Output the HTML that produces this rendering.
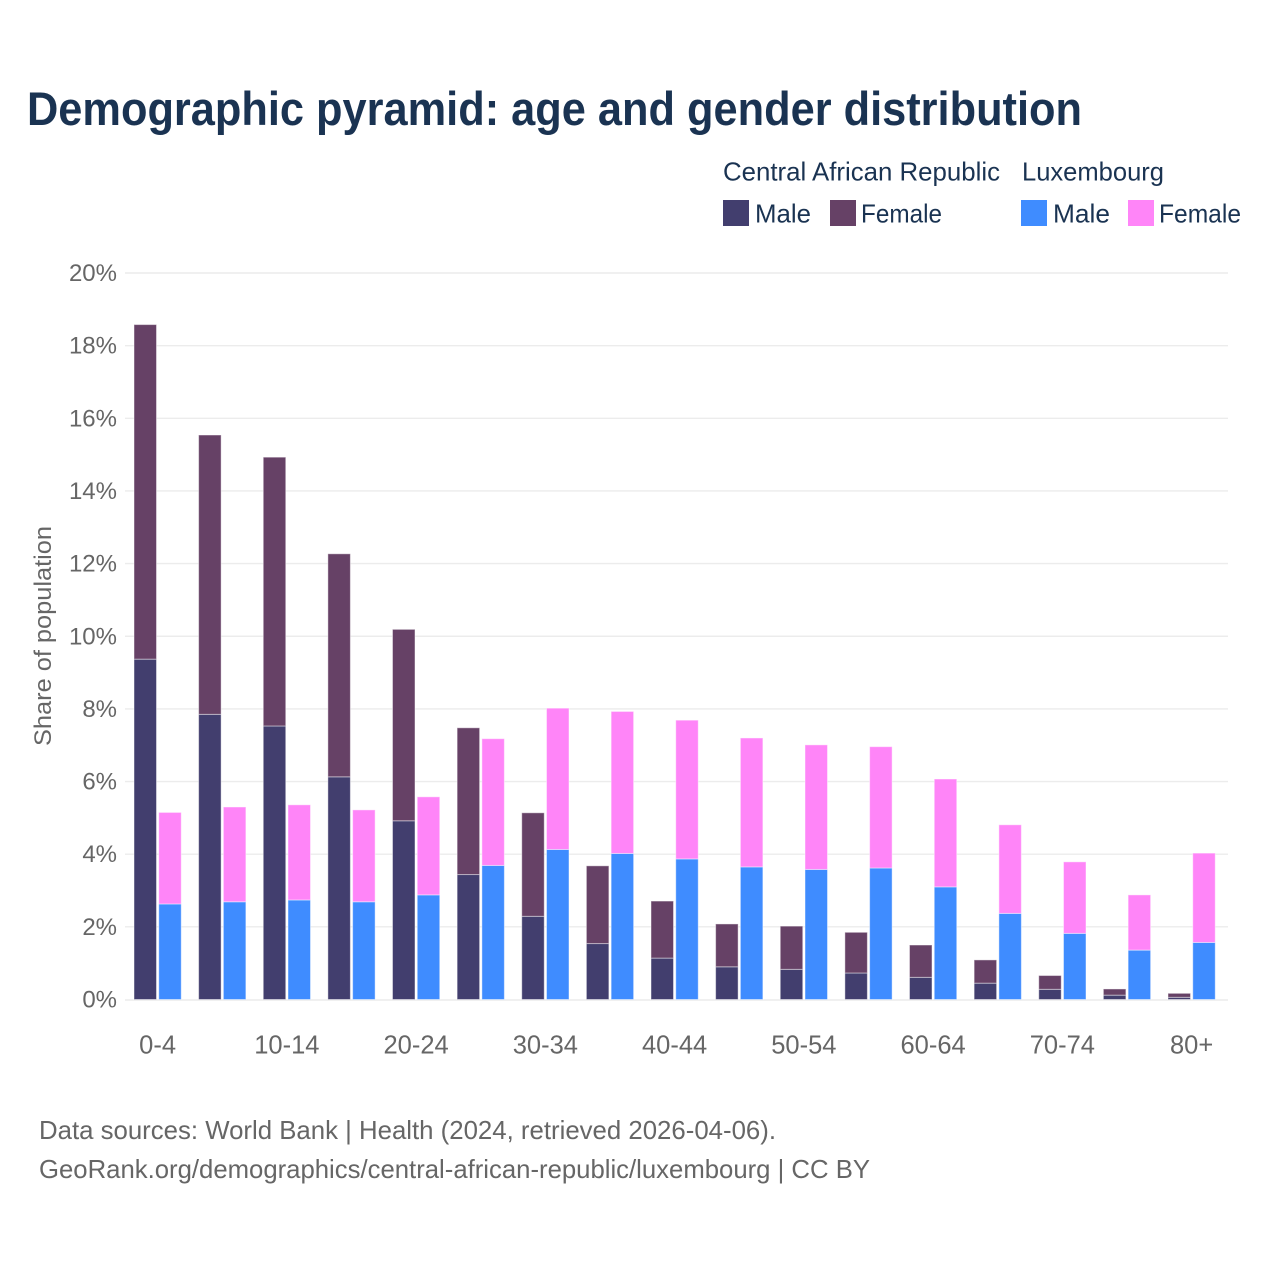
<!DOCTYPE html>
<html>
<head>
<meta charset="utf-8">
<title>Demographic pyramid</title>
<style>
html,body{margin:0;padding:0;background:#fff;width:1280px;height:1280px;overflow:hidden}
svg{display:block}
text{font-family:"Liberation Sans",sans-serif}
</style>
</head>
<body>
<svg id="chart" width="1280" height="1280" viewBox="0 0 1280 1280" xmlns="http://www.w3.org/2000/svg">
  <rect x="0" y="0" width="1280" height="1280" fill="#fff"/>
  <text x="27" y="125" font-size="47" font-weight="700" fill="#1a3352" textLength="1055" lengthAdjust="spacingAndGlyphs">Demographic pyramid: age and gender distribution</text>

  <g font-size="26" fill="#1a3352">
    <text x="723" y="180.5" textLength="277" lengthAdjust="spacingAndGlyphs">Central African Republic</text>
    <text x="1022" y="180.5" textLength="142" lengthAdjust="spacingAndGlyphs">Luxembourg</text>
    <rect x="723" y="200" width="26" height="26" fill="#423e6e"/>
    <text x="755" y="222.5" textLength="56" lengthAdjust="spacingAndGlyphs">Male</text>
    <rect x="830" y="200" width="26" height="26" fill="#664166"/>
    <text x="861" y="222.5" textLength="81" lengthAdjust="spacingAndGlyphs">Female</text>
    <rect x="1021" y="200" width="26" height="26" fill="#3f8cff"/>
    <text x="1053" y="222.5" textLength="57" lengthAdjust="spacingAndGlyphs">Male</text>
    <rect x="1128" y="200" width="26" height="26" fill="#ff85f8"/>
    <text x="1159" y="222.5" textLength="82" lengthAdjust="spacingAndGlyphs">Female</text>
  </g>

  <g id="grid"></g>
  <g id="yticks"></g>
  <g id="bars"></g>
  <g id="xticks"></g>

  <text transform="translate(51,636) rotate(-90)" text-anchor="middle" font-size="24" fill="#666" textLength="220" lengthAdjust="spacingAndGlyphs">Share of population</text>

  <text x="39" y="1139" font-size="26" fill="#666" textLength="737" lengthAdjust="spacingAndGlyphs">Data sources: World Bank | Health (2024, retrieved 2026-04-06).</text>
  <text x="39" y="1178" font-size="26" fill="#666" textLength="831" lengthAdjust="spacingAndGlyphs">GeoRank.org/demographics/central-african-republic/luxembourg | CC BY</text>
</svg>
<script>
const ageGroups = ["0-4","5-9","10-14","15-19","20-24","25-29","30-34","35-39","40-44","45-49","50-54","55-59","60-64","65-69","70-74","75-79","80+"];
const carMale = [9.37,7.85,7.53,6.13,4.92,3.44,2.29,1.54,1.14,0.90,0.83,0.73,0.61,0.45,0.28,0.12,0.06];
const carFemale = [9.21,7.69,7.40,6.14,5.27,4.04,2.85,2.14,1.57,1.18,1.19,1.12,0.89,0.64,0.38,0.17,0.11];
const luxMale = [2.63,2.69,2.74,2.69,2.88,3.69,4.13,4.02,3.87,3.65,3.58,3.62,3.10,2.37,1.82,1.36,1.57];
const luxFemale = [2.52,2.61,2.62,2.53,2.70,3.49,3.89,3.91,3.82,3.55,3.43,3.34,2.97,2.44,1.97,1.52,2.46];
const yTickValues = [0,2,4,6,8,10,12,14,16,18,20];
const xTickLabels = ["0-4","10-14","20-24","30-34","40-44","50-54","60-64","70-74","80+"];

const NS = "http://www.w3.org/2000/svg";
function yScale(v){ return 999.5 - v * 36.325; }
function xScale(i){ return 134 + i * 64.625; }
const barWidth = 22.5;
const barOffset = 24.75;
const groupCentre = 23.6;

const gridLayer = document.getElementById("grid");
const yTickLayer = document.getElementById("yticks");
const xTickLayer = document.getElementById("xticks");
const barLayer = document.getElementById("bars");

yTickValues.forEach(function(t){
  const line = document.createElementNS(NS, "line");
  
  
  line.setAttribute("x1", 125);
  line.setAttribute("x2", 1228);
  line.setAttribute("y1", yScale(t) + (t === 0 ? 0.5 : 0));
  line.setAttribute("y2", yScale(t) + (t === 0 ? 0.5 : 0));
  line.setAttribute("stroke", "#ececec");
  line.setAttribute("stroke-width", 1.4);
  gridLayer.appendChild(line);

  const label = document.createElementNS(NS, "text");
  
  
  label.setAttribute("x", 117);
  label.setAttribute("y", yScale(t) + 8);
  label.setAttribute("text-anchor", "end");
  label.setAttribute("font-size", 24);
  label.setAttribute("fill", "#666");
  label.textContent = t + "%";
  yTickLayer.appendChild(label);
});

function addBar(i, offset, base, value, colour){
  const r = document.createElementNS(NS, "rect");
  
  
  const top = yScale(base + value);
  r.setAttribute("x", xScale(i) + offset);
  r.setAttribute("y", top);
  r.setAttribute("width", barWidth);
  r.setAttribute("height", yScale(base) - top);
  r.setAttribute("fill", colour);
  r.setAttribute("stroke", "#fff");
  r.setAttribute("stroke-opacity", 0.45);
  r.setAttribute("stroke-width", 1);
  barLayer.appendChild(r);
}

ageGroups.forEach(function(g, i){
  addBar(i, 0, 0, carMale[i], "#423e6e");
  addBar(i, 0, carMale[i], carFemale[i], "#664166");
  addBar(i, barOffset, 0, luxMale[i], "#3f8cff");
  addBar(i, barOffset, luxMale[i], luxFemale[i], "#ff85f8");
});

xTickLabels.forEach(function(lbl){
  const idx = ageGroups.indexOf(lbl);
  const t = document.createElementNS(NS, "text");
  
  
  t.setAttribute("x", xScale(idx) + groupCentre);
  t.setAttribute("y", 1053.5);
  t.setAttribute("text-anchor", "middle");
  t.setAttribute("font-size", 25.5);
  t.setAttribute("fill", "#666");
  t.textContent = lbl;
  xTickLayer.appendChild(t);
});
</script>
</body>
</html>
